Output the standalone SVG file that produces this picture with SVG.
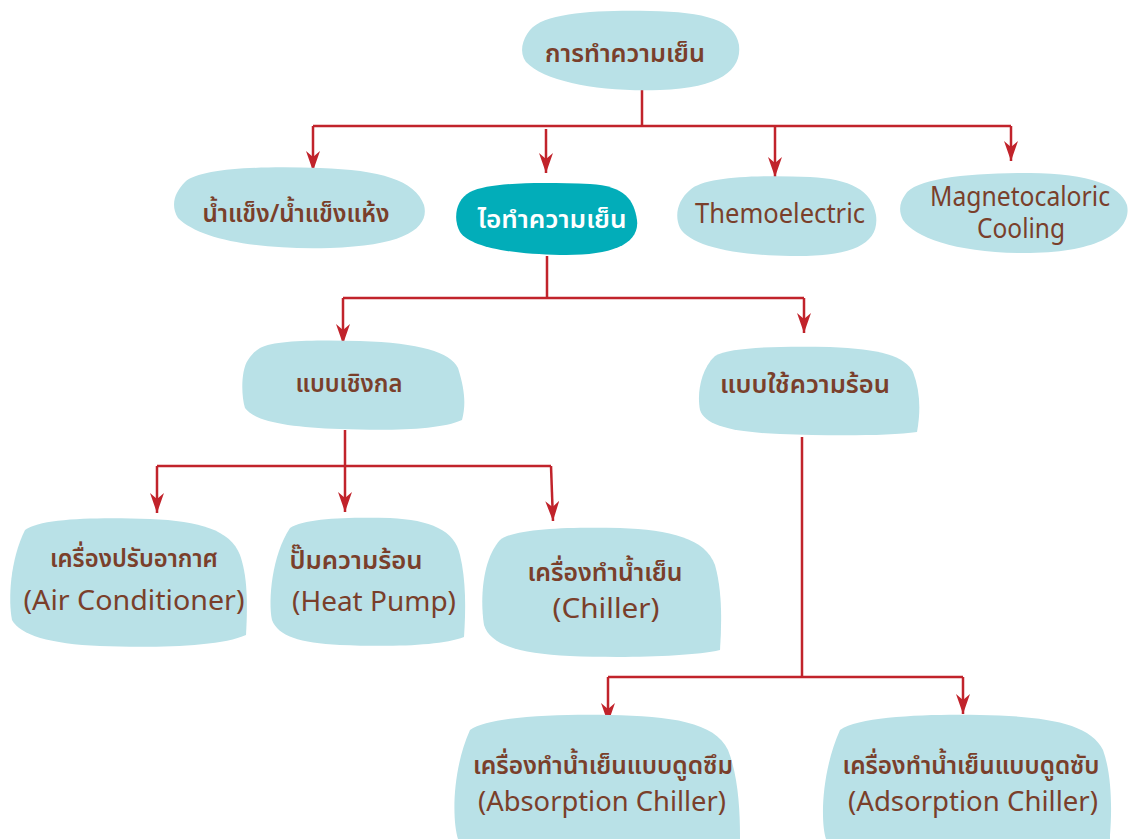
<svg xmlns="http://www.w3.org/2000/svg" width="1129" height="839" viewBox="0 0 1129 839">
  <defs>
    <marker id="arrow" markerUnits="userSpaceOnUse" markerWidth="22" markerHeight="16" refX="20" refY="7" orient="auto">
      <path d="M0,0 L20,7 L0,14 L6,7 Z" fill="#c1232b"/>
    </marker>
    <style>
      .blob { fill: #b9e1e7; }
      .blob.main { fill: #02adb9; }
      .link { fill: none; stroke: #c1232b; stroke-width: 2.5; }
      .link.tip { marker-end: url(#arrow); }
      text { font-family: "Noto Sans Thai", "Noto Sans Thai Looped", "Loma", "Garuda", "Noto Sans", "Liberation Sans", sans-serif; fill: #7a3f2b; text-anchor: middle; }
      .th { font-size: 25px; font-weight: 600; }
      .en { font-size: 28px; font-weight: 400; }
      .light { fill: #ffffff; }
    </style>
  </defs>

  <rect width="1129" height="839" fill="#ffffff"/>

  <!-- connectors -->
  <g id="connectors">
    <path class="link" d="M642,90 V126 M313,126 H1011"/>
    <path class="link tip" d="M313,126 V171"/>
    <path class="link tip" d="M546,129 V173"/>
    <path class="link tip" d="M775,126 V177"/>
    <path class="link tip" d="M1011,126 V161"/>

    <path class="link" d="M547,256 V298 M343,298 H804"/>
    <path class="link tip" d="M343,298 V344"/>
    <path class="link tip" d="M804,298 V333"/>

    <path class="link" d="M345,430 V466 M157,466 H551"/>
    <path class="link tip" d="M157,466 V513"/>
    <path class="link tip" d="M345,466 V512"/>
    <path class="link tip" d="M551,466 L553,521"/>

    <path class="link" d="M802,437 V677 M608,677 H963"/>
    <path class="link tip" d="M608,677 V723"/>
    <path class="link tip" d="M963,677 V714"/>
  </g>

  <!-- root -->
  <g id="cooling">
    <path class="blob" d="M530,30 C545,12 600,10 650,11 C705,12 735,20 739,45 C742,70 720,88 660,90 C600,92 545,82 526,62 C519,52 522,40 530,30 Z"/>
    <text class="th" x="625" y="62" textLength="160" lengthAdjust="spacingAndGlyphs">การทำความเย็น</text>
  </g>

  <!-- first level -->
  <g id="ice">
    <path class="blob" d="M185,182 C200,168 260,166 320,168 C380,170 415,180 424,205 C430,228 405,246 330,248 C260,250 200,240 178,218 C170,205 175,192 185,182 Z"/>
    <text class="th" x="296" y="222" textLength="187" lengthAdjust="spacingAndGlyphs">น้ำแข็ง/น้ำแข็งแห้ง</text>
  </g>

  <g id="vapour">
    <path class="blob main" d="M470,192 C490,182 540,182 590,184 C625,186 634,200 637,220 C640,245 610,256 560,255 C510,254 470,247 460,232 C453,220 455,200 470,192 Z"/>
    <text class="th light" x="552" y="228" textLength="149" lengthAdjust="spacingAndGlyphs">ไอทำความเย็น</text>
  </g>

  <g id="thermoelectric">
    <path class="blob" d="M690,190 C705,176 760,175 810,177 C850,179 872,190 876,215 C880,245 850,257 790,256 C730,255 690,245 680,228 C674,215 678,200 690,190 Z"/>
    <text class="en" x="780" y="223" textLength="170" lengthAdjust="spacingAndGlyphs">Themoelectric</text>
  </g>

  <g id="magnetocaloric">
    <path class="blob" d="M905,195 C915,178 970,173 1030,173 C1090,174 1120,185 1127,205 C1132,228 1105,252 1030,253 C960,254 915,238 903,220 C898,210 900,202 905,195 Z"/>
    <text class="en" x="1020" y="206" textLength="180" lengthAdjust="spacingAndGlyphs">Magnetocaloric</text>
    <text class="en" x="1021" y="238" textLength="88" lengthAdjust="spacingAndGlyphs">Cooling</text>
  </g>

  <!-- vapour compression branches -->
  <g id="mechanical">
    <path class="blob" d="M260,348 C275,340 320,340 360,341 C420,343 450,352 458,368 C465,390 466,405 462,420 C440,430 390,431 340,429 C290,427 255,422 245,408 C241,395 241,370 248,360 C252,354 255,351 260,348 Z"/>
    <text class="th" x="349" y="392" textLength="107" lengthAdjust="spacingAndGlyphs">แบบเชิงกล</text>
  </g>

  <g id="heat-driven">
    <path class="blob" d="M715,356 C730,347 780,346 830,347 C880,349 905,356 913,372 C920,390 921,410 917,432 C890,436 830,436 780,434 C730,432 705,425 700,410 C697,395 700,370 715,356 Z"/>
    <text class="th" x="805" y="393" textLength="170" lengthAdjust="spacingAndGlyphs">แบบใช้ความร้อน</text>
  </g>

  <!-- mechanical devices -->
  <g id="air-conditioner">
    <path class="blob" d="M25,530 C40,518 100,517 150,519 C200,521 230,530 240,555 C247,575 248,600 246,635 C220,647 150,648 100,646 C50,644 20,635 12,620 C8,600 10,560 25,530 Z"/>
    <text class="th" x="134" y="567" textLength="168" lengthAdjust="spacingAndGlyphs">เครื่องปรับอากาศ</text>
    <text class="en" x="134" y="610" textLength="221" lengthAdjust="spacingAndGlyphs">(Air Conditioner)</text>
  </g>

  <g id="heat-pump">
    <path class="blob" d="M290,528 C305,518 350,517 390,518 C430,520 455,530 460,555 C466,580 466,610 464,637 C440,646 390,647 340,645 C300,643 278,636 272,620 C268,600 272,555 290,528 Z"/>
    <text class="th" x="356" y="569" textLength="133" lengthAdjust="spacingAndGlyphs">ปั๊มความร้อน</text>
    <text class="en" x="374" y="611" textLength="164" lengthAdjust="spacingAndGlyphs">(Heat Pump)</text>
  </g>

  <g id="chiller">
    <path class="blob" d="M500,540 C515,528 570,527 620,528 C670,530 705,538 715,565 C722,590 722,620 720,650 C690,657 620,658 570,656 C520,654 490,645 484,625 C480,600 482,560 500,540 Z"/>
    <text class="th" x="605" y="581" textLength="155" lengthAdjust="spacingAndGlyphs">เครื่องทำน้ำเย็น</text>
    <text class="en" x="606" y="618" textLength="107" lengthAdjust="spacingAndGlyphs">(Chiller)</text>
  </g>

  <!-- heat-driven devices -->
  <g id="absorption">
    <path class="blob" d="M470,730 C490,716 560,714 610,715 C670,716 715,722 728,750 C738,775 740,810 740,835 L740,839 L458,839 C452,820 452,770 470,730 Z"/>
    <text class="th" x="603" y="774" textLength="260" lengthAdjust="spacingAndGlyphs">เครื่องทำน้ำเย็นแบบดูดซึม</text>
    <text class="en" x="602" y="811" textLength="248" lengthAdjust="spacingAndGlyphs">(Absorption Chiller)</text>
  </g>

  <g id="adsorption">
    <path class="blob" d="M840,730 C860,716 930,714 980,715 C1040,716 1090,722 1103,750 C1112,775 1112,810 1110,835 L1110,839 L826,839 C820,820 822,770 840,730 Z"/>
    <text class="th" x="971" y="774" textLength="257" lengthAdjust="spacingAndGlyphs">เครื่องทำน้ำเย็นแบบดูดซับ</text>
    <text class="en" x="973" y="811" textLength="250" lengthAdjust="spacingAndGlyphs">(Adsorption Chiller)</text>
  </g>
</svg>
